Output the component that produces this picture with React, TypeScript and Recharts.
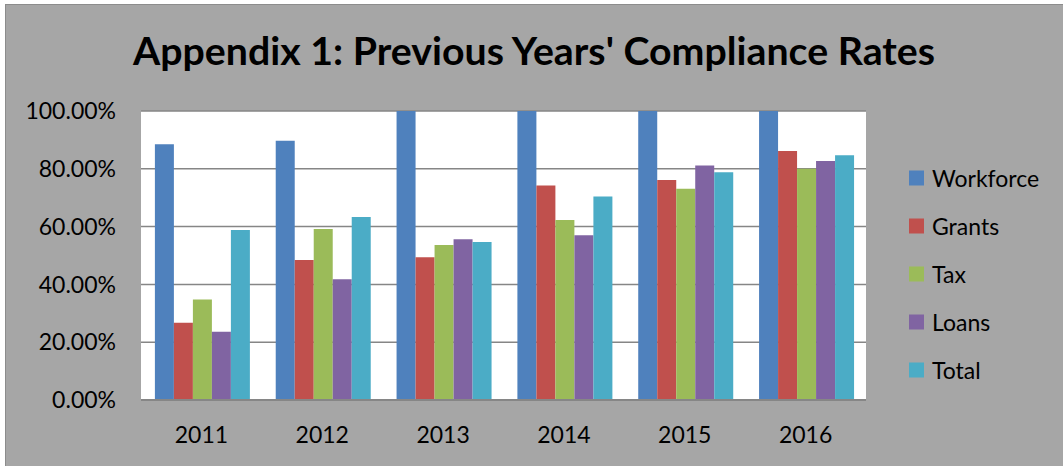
import React from 'react';
import { BarChart, Bar, XAxis, YAxis, CartesianGrid } from 'recharts';

const years = ['2011', '2012', '2013', '2014', '2015', '2016'];
const workforce = [0.885, 0.897, 1.0, 1.0, 1.0, 1.0];
const grants = [0.267, 0.484, 0.494, 0.742, 0.761, 0.862];
const tax = [0.348, 0.592, 0.536, 0.623, 0.731, 0.8];
const loans = [0.236, 0.418, 0.556, 0.57, 0.811, 0.827];
const total = [0.588, 0.633, 0.547, 0.704, 0.788, 0.847];
const yTicks = [0, 0.2, 0.4, 0.6, 0.8, 1.0];

const seriesNames = ['Workforce', 'Grants', 'Tax', 'Loans', 'Total'];
const seriesValues = [workforce, grants, tax, loans, total];
const seriesColors = ['#4f81bd', '#c0504d', '#9bbb59', '#8064a2', '#4bacc6'];

const title = "Appendix 1: Previous Years' Compliance Rates";

const data = years.map((y, i) => {
  const row: Record<string, any> = { year: y };
  seriesNames.forEach((n, k) => {
    row[n] = seriesValues[k][i];
  });
  return row;
});

const FONT = 'Lato, "Open Sans", sans-serif';

export default function App() {
  return (
    <div style={{ position: 'absolute', left: 0, top: 0, width: 1063, height: 466, background: '#ffffff', overflow: 'hidden' }}>
      <div
        style={{
          position: 'absolute',
          left: 5,
          top: 4,
          width: 1063,
          height: 466,
          background: '#a6a6a6',
          borderTop: '1px solid #8c8c8c',
          borderLeft: '1px solid #8c8c8c',
          boxSizing: 'border-box',
        }}
      />
      <div style={{ position: 'absolute', left: 0, top: 0 }}>
        <BarChart
          width={1063}
          height={466}
          data={data}
          margin={{ top: 111, right: 197, bottom: 0, left: 0 }}
          barCategoryGap="11.5%"
          barGap={0}
        >
          <CartesianGrid vertical={false} fill="#ffffff" stroke="#868686" strokeWidth={1.5} />
          <XAxis
            dataKey="year"
            height={66}
            tickLine={false}
            tickSize={6}
            tickMargin={21}
            axisLine={{ stroke: '#868686', strokeWidth: 2 }}
            tick={{ fill: '#000', fontSize: 23, fontFamily: FONT }}
          />
          <YAxis
            width={141}
            domain={[0, 1]}
            ticks={yTicks}
            interval={0}
            tickLine={false}
            axisLine={false}
            tickSize={0}
            tickMargin={25}
            allowDataOverflow
            tickFormatter={(v: number) => (v * 100).toFixed(2) + '%'}
            tick={{ fill: '#000', fontSize: 23, fontFamily: FONT }}
          />
          {seriesNames.map((n, k) => (
            <Bar key={n} dataKey={n} fill={seriesColors[k]} isAnimationActive={false} />
          ))}
        </BarChart>
      </div>
      <svg width={1063} height={466} style={{ position: 'absolute', left: 0, top: 0, pointerEvents: 'none' }}>
        <text
          x={534}
          y={65}
          textAnchor="middle"
          fontFamily={FONT}
          fontWeight={700}
          fontSize={39}
          fill="#000"
          textLength={802}
          lengthAdjust="spacingAndGlyphs"
        >
          {title}
        </text>
        {seriesNames.map((n, k) => (
          <g key={n}>
            <rect x={909} y={178 + k * 48 - 7.5} width={15} height={15} fill={seriesColors[k]} />
            <text x={932} y={178 + k * 48} dominantBaseline="central" fontFamily={FONT} fontSize={23} fill="#000">
              {n}
            </text>
          </g>
        ))}
      </svg>
    </div>
  );
}
